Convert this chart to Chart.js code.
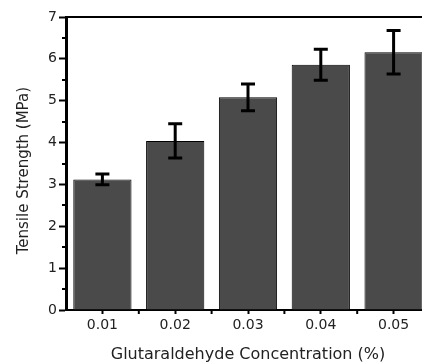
<!DOCTYPE html>
<html>
<head>
<meta charset="utf-8">
<script src="https://cdn.jsdelivr.net/npm/chart.js@4"></script>
<style>
  html, body { margin: 0; padding: 0; background: #fff; overflow: hidden; }
  #wrap { width: 422px; height: 364px; overflow: hidden; }
  #wrap canvas { display: block; }
</style>
</head>
<body>
<div id="wrap"><canvas id="myChart" width="450" height="364" style="width:450px;height:364px"></canvas></div>
<script>
// concentrations (%) and tensile strength (MPa), mean and error
const concentrations = ['0.01', '0.02', '0.03', '0.04', '0.05'];
const strength = [3.12, 4.04, 5.08, 5.86, 6.16];
const strengthErr = [0.13, 0.41, 0.32, 0.37, 0.52];
const yTicks = [0, 1, 2, 3, 4, 5, 6, 7];

const fontFamily = '"DejaVu Sans", Arial, sans-serif';

// error bars + minor ticks + frame, all placed with the chart's own scales
const extras = {
    id: 'extras',
    afterDatasetsDraw: function(chart) {
        const ctx = chart.ctx;
        const x = chart.scales.x;
        const y = chart.scales.y;
        const area = chart.chartArea;
        ctx.save();
        ctx.strokeStyle = '#000';
        ctx.lineCap = 'butt';

        // error bars
        ctx.lineWidth = 3;
        strength.forEach(function(v, i) {
            const px = x.getPixelForValue(i);
            const top = y.getPixelForValue(v + strengthErr[i]);
            const bot = y.getPixelForValue(v - strengthErr[i]);
            ctx.beginPath();
            ctx.moveTo(px, top);
            ctx.lineTo(px, bot);
            ctx.moveTo(px - 7, top);
            ctx.lineTo(px + 7, top);
            ctx.moveTo(px - 7, bot);
            ctx.lineTo(px + 7, bot);
            ctx.stroke();
        });

        // minor y ticks at the half steps
        ctx.lineWidth = 2;
        for (let i = 0; i < yTicks.length - 1; i++) {
            const py = Math.round(y.getPixelForValue((yTicks[i] + yTicks[i + 1]) / 2));
            ctx.beginPath();
            ctx.moveTo(area.left - 4, py);
            ctx.lineTo(area.left, py);
            ctx.stroke();
        }

        // small x ticks between the categories
        for (let i = 0; i < concentrations.length - 1; i++) {
            const px = (x.getPixelForValue(i) + x.getPixelForValue(i + 1)) / 2;
            ctx.beginPath();
            ctx.moveTo(px, area.bottom);
            ctx.lineTo(px, area.bottom + 4);
            ctx.stroke();
        }

        // top frame line
        ctx.lineWidth = 2;
        ctx.beginPath();
        ctx.moveTo(area.left - 1, area.top);
        ctx.lineTo(area.right, area.top);
        ctx.stroke();
        ctx.restore();
    }
};

const myChart = new Chart(document.getElementById('myChart'), {
    type: 'bar',
    data: {
        labels: concentrations,
        datasets: [{
            label: 'Tensile Strength',
            data: strength,
            backgroundColor: '#4a4a4a',
            borderColor: '#000',
            borderWidth: 1,
            barPercentage: 0.8,
            categoryPercentage: 1.0,
        }],
    },
    options: {
        responsive: false,
        animation: false,
        layout: { padding: { left: 0, top: 17, right: 20, bottom: 0 } },
        plugins: {
            legend: { display: false },
            tooltip: { enabled: false },
        },
        scales: {
            x: {
                offset: true,
                grid: {
                    offset: false,
                    drawOnChartArea: false,
                    tickLength: 4,
                    tickWidth: 2,
                    tickColor: '#000',
                },
                border: { color: '#000', width: 2 },
                ticks: {
                    color: '#222',
                    font: { family: fontFamily, size: 14 },
                    padding: 3,
                    maxRotation: 0,
                },
                title: {
                    display: true,
                    text: 'Glutaraldehyde Concentration (%)',
                    color: '#222',
                    font: { family: fontFamily, size: 16 },
                    padding: { top: 4, bottom: 0 },
                },
                afterFit: function(scale) { scale.height = 54; },
            },
            y: {
                min: 0,
                max: 7,
                afterBuildTicks: function(scale) {
                    scale.ticks = yTicks.map(function(v) { return { value: v }; });
                },
                grid: {
                    drawOnChartArea: false,
                    tickLength: 7,
                    tickWidth: 2,
                    tickColor: '#000',
                },
                border: { color: '#000', width: 3 },
                ticks: {
                    color: '#222',
                    font: { family: fontFamily, size: 14 },
                    padding: 2,
                },
                title: {
                    display: true,
                    // trailing spaces nudge the rotated title a little lower, as in the original
                    text: 'Tensile Strength (MPa)   ',
                    color: '#222',
                    font: { family: fontFamily, size: 15 },
                    padding: { top: 15, bottom: 0 },
                },
                afterFit: function(scale) { scale.width = 66; },
            },
        },
    },
    plugins: [extras],
});
</script>
</body>
</html>
